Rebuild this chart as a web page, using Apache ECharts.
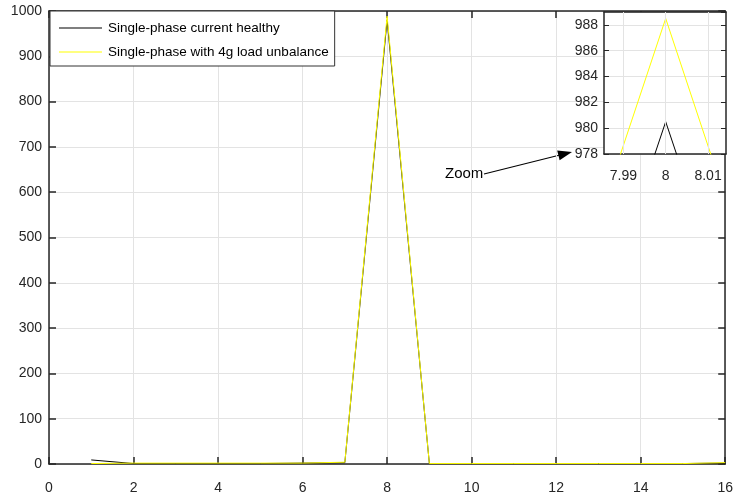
<!DOCTYPE html>
<html>
<head>
<meta charset="utf-8">
<script src="https://cdn.jsdelivr.net/npm/echarts@6/dist/echarts.min.js"></script>
<style>
  html, body { margin: 0; padding: 0; background: #fff; }
  #chart { width: 736px; height: 499px; }
</style>
</head>
<body>
<div id="chart"></div>
<script>
// harmonic order
var harmonics = [1, 2, 3, 4, 5, 6, 7, 8, 9, 10, 11, 12, 13, 14, 15, 16];
// spectrum magnitudes
var healthy = [9, 1, 1, 1, 1, 2, 3, 980.5, 1, 1, 1, 1, 1, 1, 1, 2];
var unbalanced = [1, 2, 2, 2, 2, 2, 4, 988.5, 1, 1, 1, 1, 1, 1, 1, 3];
var seriesNames = ['Single-phase current healthy', 'Single-phase with 4g load unbalance'];
// zoom inset ticks
var zoomXTicks = [7.99, 8, 8.01];

var FONT = "'Liberation Sans', Arial, sans-serif";
var AX = '#262626';
var GRID = '#e3e3e3';

function pairs(xs, ys) {
    return xs.map(function (x, i) { return [x, ys[i]]; });
}

var chart = echarts.init(document.getElementById('chart'));

function boxAxis(gridIndex, pos, min, max, interval, z) {
    return {
        gridIndex: gridIndex, type: 'value', position: pos,
        min: min, max: max, interval: interval, z: z,
        axisLine: { show: true, onZero: false, lineStyle: { color: AX, width: 1.5 } },
        axisTick: { show: true, inside: true, length: 7, lineStyle: { color: AX, width: 1.5 } },
        axisLabel: { show: false },
        splitLine: { show: false }
    };
}

var option = {
    animation: false,
    backgroundColor: '#fff',
    textStyle: { fontFamily: FONT },
    grid: [
        { left: 49, right: 1, top: 11, bottom: 35 },
        { left: 604, top: 12, width: 122, height: 142, show: true,
          backgroundColor: '#fff', borderWidth: 0, z: 1 }
    ],
    legend: {
        orient: 'vertical',
        left: 50, top: 11,
        padding: [10, 6, 7, 9],
        itemGap: 10,
        itemWidth: 43,
        itemHeight: 1,
        icon: 'rect',
        backgroundColor: '#fff',
        borderColor: '#333',
        borderWidth: 1,
        data: seriesNames,
        textStyle: { fontFamily: FONT, fontSize: 13.5, color: '#000', padding: [0, 0, 0, 1] }
    },
    xAxis: [
        {
            gridIndex: 0, type: 'value', position: 'bottom',
            min: 0, max: 16, interval: 2,
            axisLine: { onZero: false, lineStyle: { color: AX, width: 1.5 } },
            axisTick: { inside: true, length: 7, lineStyle: { color: AX, width: 1.5 } },
            axisLabel: { margin: 17, color: '#262626', fontSize: 14, fontFamily: FONT },
            splitLine: { show: true, lineStyle: { color: GRID } }
        },
        boxAxis(0, 'top', 0, 16, 2, 0),
        {
            gridIndex: 1, type: 'value', position: 'bottom', z: 2,
            min: 7.98543, max: 8.01424,
            axisLine: { onZero: false, lineStyle: { color: AX, width: 1.5 } },
            axisTick: { inside: true, length: 5, customValues: zoomXTicks, lineStyle: { color: AX } },
            axisLabel: { margin: 15, customValues: zoomXTicks, color: '#262626', fontSize: 14, fontFamily: FONT },
            splitLine: { show: false }
        },
        {
            gridIndex: 1, type: 'value', position: 'top', z: 2,
            min: 7.98543, max: 8.01424,
            axisLine: { show: true, onZero: false, lineStyle: { color: AX, width: 1.5 } },
            axisTick: { show: true, inside: true, length: 5, customValues: zoomXTicks, lineStyle: { color: AX } },
            axisLabel: { show: false },
            splitLine: { show: false }
        }
    ],
    yAxis: [
        {
            gridIndex: 0, type: 'value', position: 'left',
            min: 0, max: 1000, interval: 100,
            axisLine: { show: true, onZero: false, lineStyle: { color: AX, width: 1.5 } },
            axisTick: { show: true, inside: true, length: 7, lineStyle: { color: AX, width: 1.5 } },
            axisLabel: { margin: 7, color: '#262626', fontSize: 14, fontFamily: FONT,
                         formatter: function (v) { return String(v); } },
            splitLine: { show: true, lineStyle: { color: GRID } }
        },
        boxAxis(0, 'right', 0, 1000, 100, 0),
        {
            gridIndex: 1, type: 'value', position: 'left', z: 2,
            min: 978, max: 989, interval: 2,
            axisLine: { show: true, onZero: false, lineStyle: { color: AX, width: 1.5 } },
            axisTick: { show: true, inside: true, length: 5, lineStyle: { color: AX } },
            axisLabel: { margin: 6, showMaxLabel: false, color: '#262626', fontSize: 14, fontFamily: FONT,
                         formatter: function (v) { return String(v); } },
            splitLine: { show: true, lineStyle: { color: GRID } }
        },
        {
            gridIndex: 1, type: 'value', position: 'right', z: 2,
            min: 978, max: 989, interval: 2,
            axisLine: { show: true, onZero: false, lineStyle: { color: AX, width: 1.5 } },
            axisTick: { show: true, inside: true, length: 5, lineStyle: { color: AX } },
            axisLabel: { show: false },
            splitLine: { show: false }
        }
    ],
    series: [
        {
            name: seriesNames[0], type: 'line', xAxisIndex: 0, yAxisIndex: 0,
            symbol: 'none', data: pairs(harmonics, healthy),
            lineStyle: { color: '#000', width: 1 }, itemStyle: { color: '#000' }
        },
        {
            name: seriesNames[1], type: 'line', xAxisIndex: 0, yAxisIndex: 0,
            symbol: 'none', data: pairs(harmonics, unbalanced),
            lineStyle: { color: '#ffff00', width: 1 }, itemStyle: { color: '#ffff00' }
        },
        {
            // vertical grid lines of the zoom inset
            type: 'line', xAxisIndex: 2, yAxisIndex: 2, z: 2, data: [], silent: true,
            markLine: {
                silent: true, symbol: 'none', animation: false,
                label: { show: false },
                lineStyle: { color: GRID, type: 'solid', width: 1 },
                data: zoomXTicks.map(function (v) { return { xAxis: v }; })
            }
        },
        {
            name: seriesNames[0], type: 'line', xAxisIndex: 2, yAxisIndex: 2,
            symbol: 'none', clip: true, data: pairs(harmonics, healthy), z: 3,
            lineStyle: { color: '#000', width: 1 }, itemStyle: { color: '#000' }
        },
        {
            name: seriesNames[1], type: 'line', xAxisIndex: 2, yAxisIndex: 2,
            symbol: 'none', clip: true, data: pairs(harmonics, unbalanced), z: 3,
            lineStyle: { color: '#ffff00', width: 1 }, itemStyle: { color: '#ffff00' }
        }
    ],
    graphic: [
        {
            type: 'text', left: 445, top: 166,
            style: { text: 'Zoom', fill: '#000', font: '15px ' + FONT }
        },
        {
            type: 'line',
            shape: { x1: 484, y1: 174, x2: 560, y2: 155 },
            style: { stroke: '#000', lineWidth: 1.2 }
        },
        {
            type: 'polygon',
            shape: { points: [[572, 152], [559.6, 160.2], [557.2, 150.4]] },
            style: { fill: '#000' }
        }
    ]
};

chart.setOption(option);
</script>
</body>
</html>
